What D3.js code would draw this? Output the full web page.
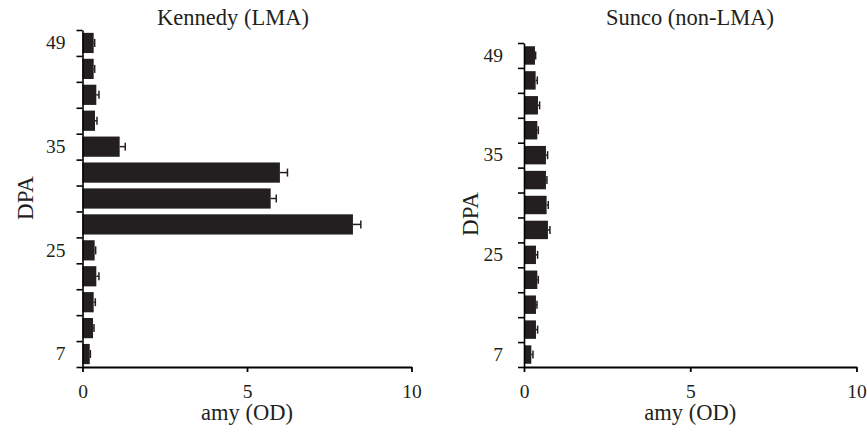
<!DOCTYPE html>
<html>
<head>
<meta charset="utf-8">
<script src="https://cdn.jsdelivr.net/npm/d3@7"></script>
<style>
body{margin:0;background:#fff}
</style>
</head>
<body>
<div id="chart"></div>
<script>
var width = 867
var height = 435
var barColor = "#231f20"
var serif = "Liberation Serif, Times New Roman, serif"

// DPA categories, bottom to top (only some are labelled in the figure)
var dpa = ["7","11","15","19","25","27","29","31","35","38","42","45","49"]
var dpaShown = ["7","25","35","49"]
var xTicks = [0,5,10]

var kennedyAmy = [0.22,0.32,0.34,0.42,0.37,8.22,5.72,6.0,1.13,0.38,0.42,0.34,0.34]
var kennedyErr = [0.02,0.03,0.05,0.08,0.03,0.24,0.17,0.23,0.17,0.06,0.08,0.03,0.03]
var suncoAmy = [0.22,0.36,0.36,0.4,0.36,0.72,0.68,0.66,0.66,0.4,0.42,0.35,0.33]
var suncoErr = [0.05,0.05,0.03,0.03,0.05,0.06,0.05,0.03,0.05,0.03,0.05,0.05,0.02]

var svg = d3.select("#chart").append("svg")
	.attr("width",width)
	.attr("height",height)
	.attr("font-family",serif)

drawPanel({title:"Kennedy (LMA)", values:kennedyAmy, errs:kennedyErr,
	left:82.5, right:411.5, top:30, bottom:367, titleX:233, labelX:25, labelY:198, labelPad:17, pad:0.22})
drawPanel({title:"Sunco (non-LMA)", values:suncoAmy, errs:suncoErr,
	left:524, right:856.5, top:43, bottom:367, titleX:690, labelX:470, labelY:214, labelPad:21, pad:0.26})

function drawPanel(p){
	var g = svg.append("g")
	var x = d3.scaleLinear().domain([0,10]).range([p.left,p.right])
	var y = d3.scaleBand().domain(dpa).range([p.bottom,p.top]).paddingInner(p.pad).paddingOuter(p.pad/2)
	var yEdges = d3.scaleLinear().domain([0,dpa.length]).range([p.bottom,p.top])

	// bars
	g.selectAll(".bar")
		.data(p.values)
		.enter()
		.append("rect")
		.attr("class","bar")
		.attr("x",x(0))
		.attr("y",function(d,i){ return y(dpa[i]) })
		.attr("height",y.bandwidth())
		.attr("width",function(d){ return x(d)-x(0) })
		.style("fill",barColor)

	// error bars
	var eb = g.selectAll(".err")
		.data(p.values)
		.enter()
		.append("g")
		.attr("class","err")
		.attr("transform",function(d,i){ return "translate(0,"+(y(dpa[i])+y.bandwidth()/2)+")" })
	eb.append("line")
		.attr("x1",function(d){ return x(d) })
		.attr("x2",function(d,i){ return x(d+p.errs[i]) })
		.attr("stroke",barColor).attr("stroke-width",1.5)
	eb.append("line")
		.attr("x1",function(d,i){ return x(d+p.errs[i]) })
		.attr("x2",function(d,i){ return x(d+p.errs[i]) })
		.attr("y1",-4).attr("y2",4)
		.attr("stroke",barColor).attr("stroke-width",1.5)

	// y axis: ticks between categories
	g.append("g")
		.attr("transform","translate("+p.left+",0)")
		.call(d3.axisLeft(yEdges).tickValues(d3.range(dpa.length+1)).tickFormat("").tickSizeInner(6).tickSizeOuter(0))
		.call(function(a){ a.selectAll("path,line").attr("stroke","#000").attr("stroke-width",1.6) })

	g.append("g")
		.attr("transform","translate("+p.left+",0)")
		.call(d3.axisLeft(y).tickSize(0).tickPadding(p.labelPad).tickFormat(function(d){ return dpaShown.indexOf(d)>=0 ? d : "" }))
		.call(function(a){
			a.select(".domain").remove()
			a.attr("font-family",serif).attr("font-size",19.5)
			a.selectAll("text").attr("fill","#231f20")
		})

	// x axis
	g.append("g")
		.attr("transform","translate(0,"+p.bottom+")")
		.call(d3.axisBottom(x).tickValues(xTicks).tickSizeInner(5).tickSizeOuter(0).tickPadding(12))
		.call(function(a){
			a.attr("font-family",serif).attr("font-size",19.5)
			a.selectAll("path,line").attr("stroke","#000").attr("stroke-width",1.8)
			a.selectAll("text").attr("fill","#231f20")
		})

	// titles
	g.append("text")
		.attr("x",p.titleX).attr("y",25)
		.attr("text-anchor","middle")
		.attr("font-size",22.5).attr("fill","#231f20")
		.text(p.title)
	g.append("text")
		.attr("x",(p.left+p.right)/2).attr("y",420)
		.attr("text-anchor","middle")
		.attr("font-size",22.5).attr("fill","#231f20")
		.text("amy (OD)")
	g.append("text")
		.attr("transform","translate("+p.labelX+","+p.labelY+") rotate(-90)")
		.attr("dy","0.35em")
		.attr("text-anchor","middle")
		.attr("font-size",23).attr("fill","#231f20")
		.text("DPA")
}
</script>
</body>
</html>
